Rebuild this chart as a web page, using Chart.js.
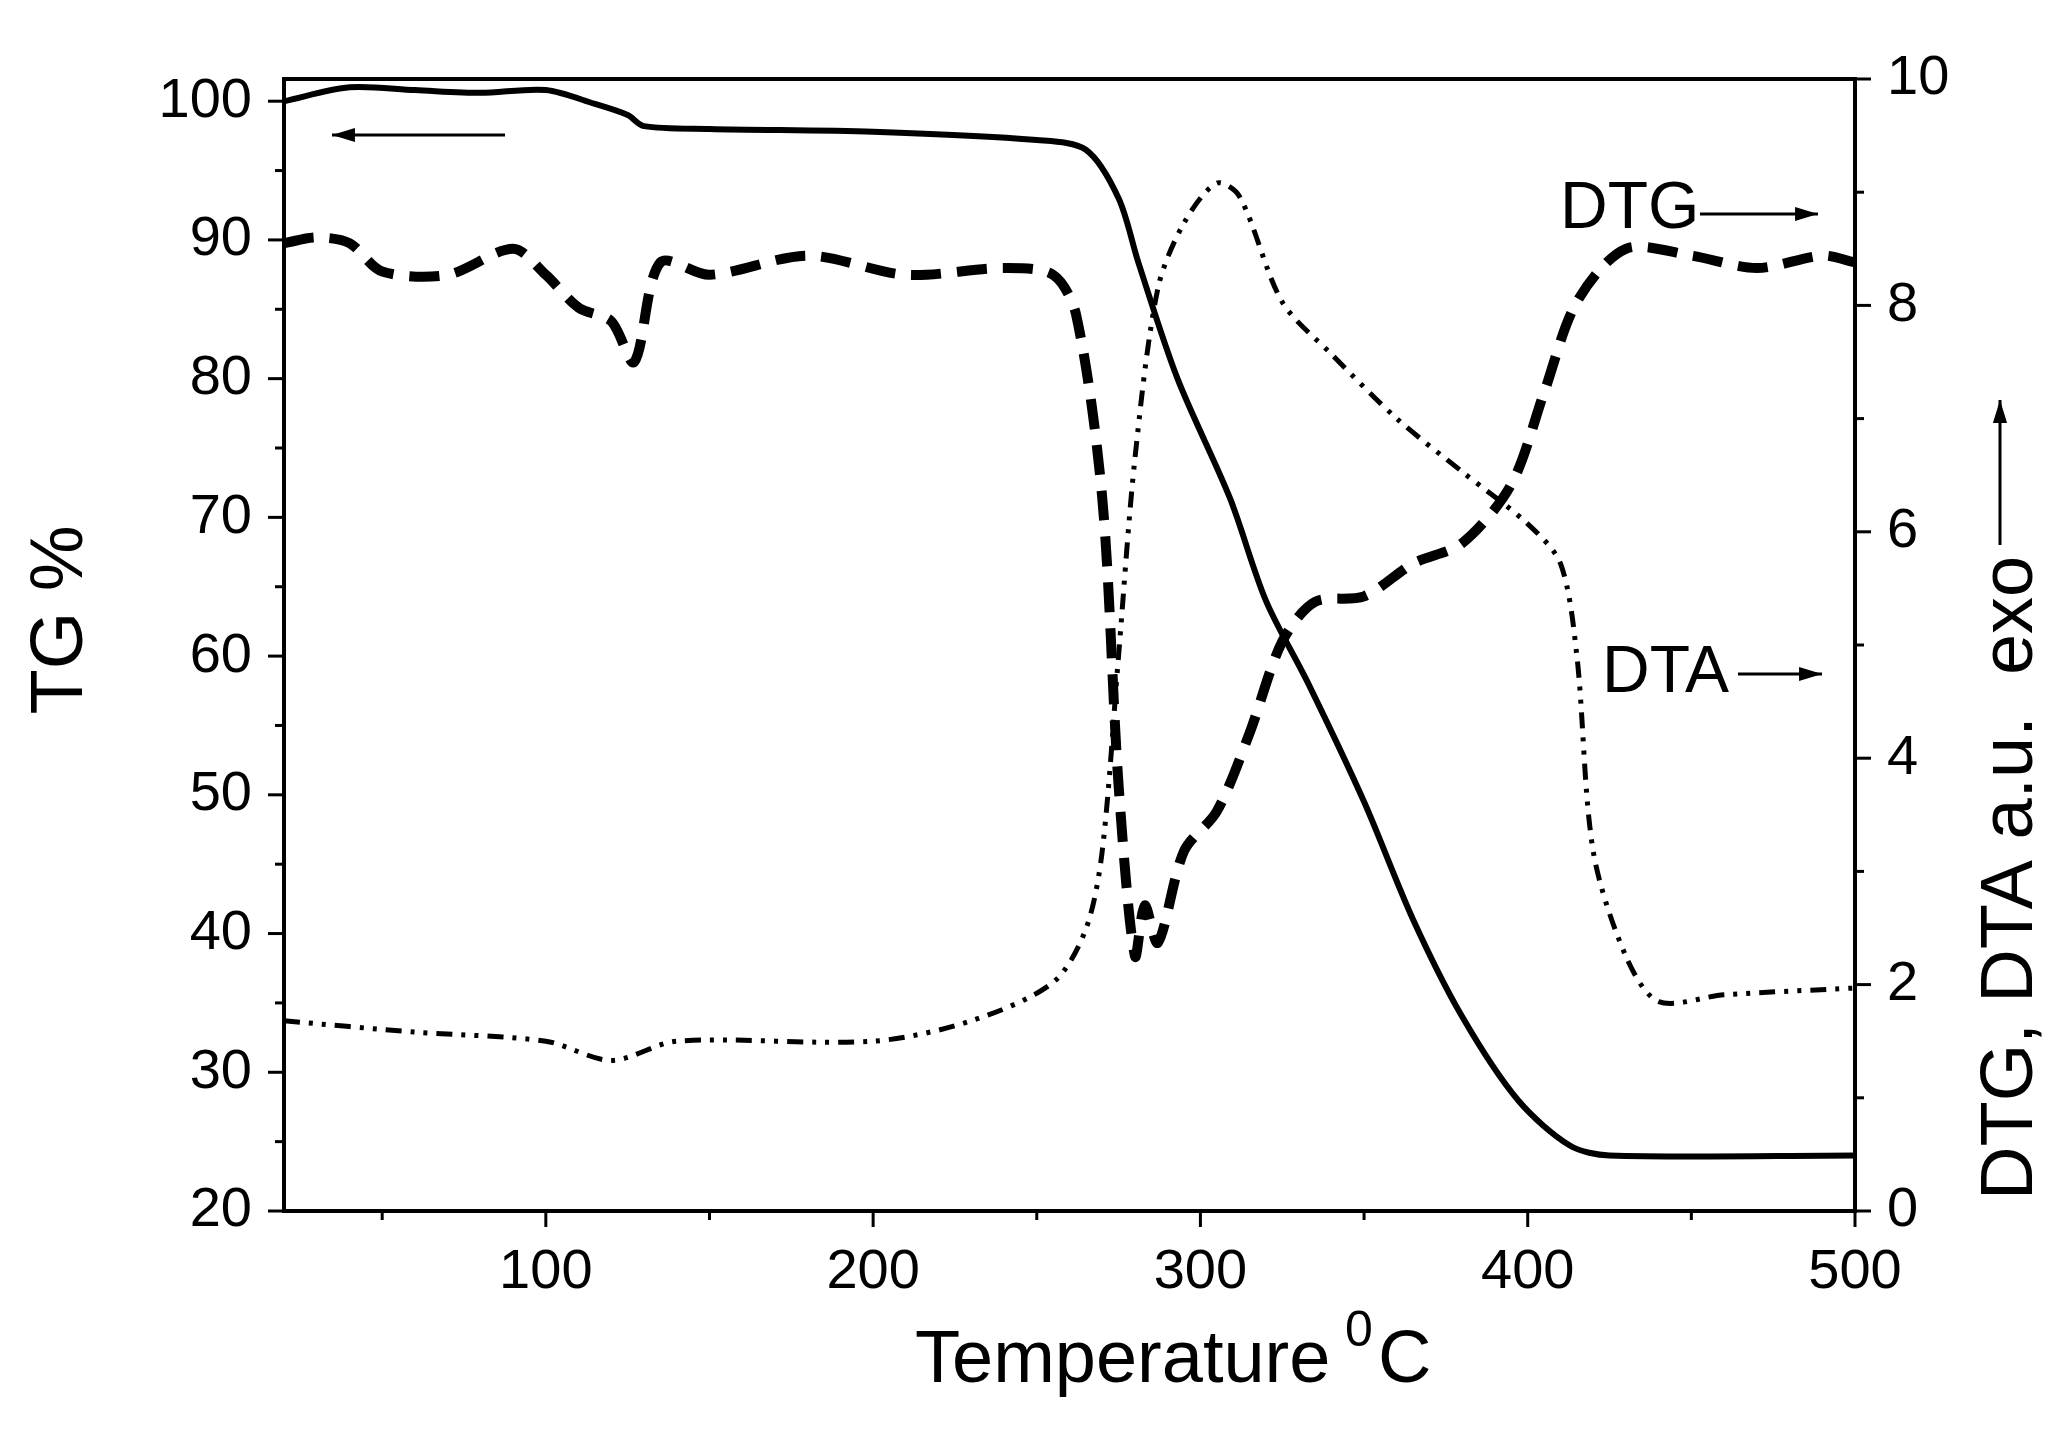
<!DOCTYPE html>
<html>
<head>
<meta charset="utf-8">
<script src="https://cdn.jsdelivr.net/npm/chart.js@4"></script>
<style>
  body { margin: 0; background: #fff; }
  canvas { display: block; }
</style>
</head>
<body>
<canvas id="chart" width="2052" height="1433"></canvas>
<script>
// TG curve (left axis, %)
const tgTemp = [20, 40, 60, 80, 100, 115, 125, 130, 150, 200, 250, 265, 275, 281, 293, 309, 320, 333, 350, 365, 380, 397, 413, 425, 500];
const tgValues = [100, 101, 100.8, 100.6, 100.8, 99.8, 99, 98.2, 98, 97.8, 97.2, 96.5, 93, 88.4, 80, 71.4, 64, 58, 49.5, 41, 34, 28, 24.7, 24, 24];

// DTG curve (right axis, a.u.)
const dtgTemp = [20, 30, 40, 50, 70, 90, 100, 110, 120, 127, 135, 150, 180, 210, 240, 255, 262, 270, 275, 280, 283, 287, 295, 305, 315, 325, 335, 350, 365, 380, 395, 405, 415, 430, 450, 470, 490, 500];
const dtgValues = [8.55, 8.6, 8.55, 8.3, 8.27, 8.5, 8.27, 7.98, 7.86, 7.5, 8.38, 8.27, 8.44, 8.27, 8.33, 8.27, 7.92, 6.3, 3.76, 2.25, 2.7, 2.37, 3.18, 3.53, 4.22, 5.03, 5.38, 5.43, 5.72, 5.9, 6.42, 7.23, 8.03, 8.5, 8.44, 8.33, 8.44, 8.38];

// DTA curve (right axis, a.u.)
const dtaTemp = [20, 60, 100, 120, 140, 200, 230, 255, 265, 270, 275, 280, 287, 295, 305, 312, 325, 340, 360, 380, 400, 410, 415, 420, 430, 440, 460, 500];
const dtaValues = [1.68, 1.58, 1.5, 1.33, 1.5, 1.5, 1.68, 2.02, 2.49, 3.18, 4.91, 6.65, 8.15, 8.73, 9.08, 8.96, 8.03, 7.57, 7.0, 6.53, 6.07, 5.72, 4.91, 3.18, 2.25, 1.85, 1.91, 1.97];

const xTicks = [100, 200, 300, 400, 500];
const leftTicks = [20, 30, 40, 50, 60, 70, 80, 90, 100];
const rightTicks = [0, 2, 4, 6, 8, 10];

const FONT = '"Liberation Sans", Arial, sans-serif';
const pts = (xs, ys) => xs.map((x, i) => ({ x: x, y: ys[i] }));

function arrow(ctx, x1, y1, x2, y2) {
    ctx.beginPath();
    ctx.moveTo(x1, y1);
    ctx.lineTo(x2, y2);
    ctx.stroke();
    const a = Math.atan2(y2 - y1, x2 - x1);
    ctx.beginPath();
    ctx.moveTo(x2, y2);
    ctx.lineTo(x2 - 24 * Math.cos(a - 0.3), y2 - 24 * Math.sin(a - 0.3));
    ctx.lineTo(x2 - 24 * Math.cos(a + 0.3), y2 - 24 * Math.sin(a + 0.3));
    ctx.closePath();
    ctx.fill();
}

const framePlugin = {
    id: 'frame',
    afterDraw(chart) {
        const ctx = chart.ctx;
        const a = chart.chartArea;
        const x = chart.scales.x, yl = chart.scales.y, yr = chart.scales.y2;
        ctx.save();
        ctx.strokeStyle = '#000';
        ctx.fillStyle = '#000';
        ctx.lineWidth = 4;
        ctx.strokeRect(a.left, a.top, a.right - a.left, a.bottom - a.top);
        ctx.lineWidth = 3;
        // x ticks (major every 100, minor every 50)
        for (let t = 50; t <= 500; t += 50) {
            const px = x.getPixelForValue(t);
            const len = t % 100 === 0 ? 16 : 9;
            ctx.beginPath(); ctx.moveTo(px, a.bottom); ctx.lineTo(px, a.bottom + len); ctx.stroke();
        }
        // left ticks
        for (let t = 20; t <= 100; t += 5) {
            const py = yl.getPixelForValue(t);
            const len = t % 10 === 0 ? 16 : 9;
            ctx.beginPath(); ctx.moveTo(a.left, py); ctx.lineTo(a.left - len, py); ctx.stroke();
        }
        // right ticks
        for (let t = 0; t <= 10; t += 1) {
            const py = yr.getPixelForValue(t);
            const len = t % 2 === 0 ? 16 : 9;
            ctx.beginPath(); ctx.moveTo(a.right, py); ctx.lineTo(a.right + len, py); ctx.stroke();
        }
        // annotations
        ctx.font = '66px ' + FONT;
        ctx.textBaseline = 'middle';
        ctx.textAlign = 'left';
        ctx.fillText('DTG', 1560, 210);
        ctx.fillText('DTA', 1602, 674);
        ctx.lineWidth = 3;
        arrow(ctx, 1700, 214, 1818, 214);
        arrow(ctx, 1738, 674, 1822, 674);
        arrow(ctx, 505, 135, 332, 135);
        // axis titles
        ctx.font = '74px ' + FONT;
        ctx.textAlign = 'left';
        ctx.fillText('Temperature ', 915, 1362);
        ctx.font = '50px ' + FONT;
        ctx.fillText('0', 1345, 1332);
        ctx.font = '74px ' + FONT;
        ctx.fillText('C', 1378, 1362);
        ctx.textAlign = 'center';
        ctx.save();
        ctx.translate(62, 620);
        ctx.rotate(-Math.PI / 2);
        ctx.fillText('TG %', 0, 0);
        ctx.restore();
        ctx.save();
        ctx.translate(2012, 1200);
        ctx.rotate(-Math.PI / 2);
        ctx.textAlign = 'left';
        ctx.fillText('DTG, DTA a.u.  exo', 0, 0);
        ctx.restore();
        arrow(ctx, 2000, 545, 2000, 400);
        ctx.restore();
    }
};

new Chart(document.getElementById('chart'), {
    type: 'line',
    data: {
        datasets: [
            { data: pts(tgTemp, tgValues), yAxisID: 'y', borderColor: '#000', borderWidth: 6, pointRadius: 0, tension: 0.3 },
            { data: pts(dtgTemp, dtgValues), yAxisID: 'y2', borderColor: '#000', borderWidth: 10, borderDash: [30, 16], pointRadius: 0, tension: 0.3 },
            { data: pts(dtaTemp, dtaValues), yAxisID: 'y2', borderColor: '#000', borderWidth: 5, borderDash: [16, 9, 4, 9, 4, 9], pointRadius: 0, tension: 0.3 }
        ]
    },
    options: {
        responsive: false,
        animation: false,
        layout: { padding: { top: 79, left: 0, right: 0, bottom: 0 } },
        plugins: { legend: { display: false }, tooltip: { enabled: false } },
        scales: {
            x: {
                type: 'linear', min: 20, max: 500,
                afterFit: s => { s.height = 222; },
                afterBuildTicks: s => { s.ticks = xTicks.map(v => ({ value: v })); },
                grid: { display: false }, border: { display: false },
                ticks: { color: '#000', font: { size: 56, family: FONT }, padding: 20, maxRotation: 0 }
            },
            y: {
                position: 'left', min: 20, max: 101.6,
                afterFit: s => { s.width = 284; },
                afterBuildTicks: s => { s.ticks = leftTicks.map(v => ({ value: v })); },
                grid: { display: false }, border: { display: false },
                ticks: { color: '#000', font: { size: 56, family: FONT }, padding: 24 }
            },
            y2: {
                position: 'right', min: 0, max: 10,
                afterFit: s => { s.width = 197; },
                afterBuildTicks: s => { s.ticks = rightTicks.map(v => ({ value: v })); },
                grid: { display: false }, border: { display: false },
                ticks: { color: '#000', font: { size: 56, family: FONT }, padding: 24 }
            }
        }
    },
    plugins: [framePlugin]
});
</script>
</body>
</html>
